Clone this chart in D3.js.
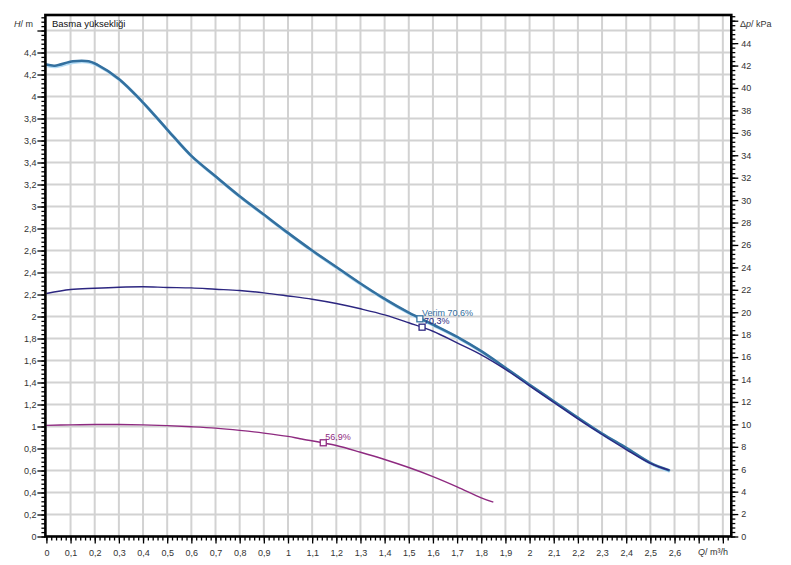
<!DOCTYPE html>
<html><head><meta charset="utf-8">
<script src="https://cdn.jsdelivr.net/npm/d3@7"></script>
<style>
html,body{margin:0;padding:0;background:#fff;}
svg{display:block;font-family:Arial,"Liberation Sans",sans-serif;}
</style></head>
<body>
<svg id="chart" width="791" height="565"></svg>
<script>
// ---- data ----
const qBlue = [0, 0.035, 0.11, 0.175, 0.21, 0.3, 0.4, 0.5, 0.6, 0.7, 0.8, 0.9, 1.0, 1.1, 1.2, 1.3, 1.4, 1.5, 1.6, 1.7, 1.8, 1.9, 2.0, 2.1, 2.2, 2.3, 2.4, 2.5, 2.577];
const hBlue = [4.29, 4.28, 4.32, 4.32, 4.29, 4.16, 3.945, 3.70, 3.46, 3.275, 3.094, 2.927, 2.76, 2.60, 2.45, 2.30, 2.16, 2.035, 1.927, 1.815, 1.685, 1.534, 1.38, 1.23, 1.08, 0.936, 0.806, 0.67, 0.603];
const qNavy = [0, 0.1, 0.2, 0.3, 0.4, 0.5, 0.6, 0.7, 0.8, 0.9, 1.0, 1.1, 1.2, 1.3, 1.4, 1.5, 1.6, 1.7, 1.8, 1.9, 2.0, 2.1, 2.2, 2.3, 2.4, 2.5, 2.577];
const hNavy = [2.209, 2.245, 2.257, 2.266, 2.27, 2.264, 2.26, 2.248, 2.236, 2.215, 2.187, 2.157, 2.118, 2.07, 2.015, 1.943, 1.866, 1.76, 1.652, 1.52, 1.37, 1.22, 1.07, 0.927, 0.79, 0.664, 0.603];
const qPurple = [0, 0.1, 0.2, 0.3, 0.4, 0.5, 0.6, 0.7, 0.8, 0.9, 1.0, 1.05, 1.2, 1.3, 1.4, 1.5, 1.6, 1.7, 1.8, 1.85];
const hPurple = [1.01, 1.015, 1.018, 1.018, 1.015, 1.008, 0.998, 0.985, 0.965, 0.94, 0.91, 0.889, 0.827, 0.766, 0.700, 0.627, 0.545, 0.452, 0.352, 0.312];
const pointQ = [1.546, 1.555, 1.146];
const pointH = [1.979, 1.903, 0.852];
const pointLabels = ["Verim 70,6%", "70,3%", "56,9%"];
const xTickLabels = d3.range(0, 27).map(i => i / 10);       // 0 .. 2.6
const yTickLabels = d3.range(0, 23).map(i => i / 5);        // 0 .. 4.4
const kpaTickLabels = d3.range(0, 23).map(i => i * 2);      // 0 .. 44
const yTitle = "Basma yüksekliği";
const KPA_PER_M = 9.81;

// ---- layout ----
const svg = d3.select("#chart");
const x = d3.scaleLinear().domain([0, 2.835]).range([46.4, 731.3]);
const y = d3.scaleLinear().domain([0, 4.741]).range([536.5, 15]);
const yk = d3.scaleLinear().domain([0, 4.741 * KPA_PER_M]).range([536.5, 15]);
const fmt = d => String(+d.toFixed(2)).replace(".", ",");

const colBlue = "#33709f", colHalo = "#b5dcf5", colNavy = "#2c2680", colPurple = "#8e2a80";
const gridCol = "#d2d2d2";

// grid
const g = svg.append("g");
g.selectAll("line.v").data(d3.range(1, 29).map(i => i / 10)).join("line")
  .attr("x1", d => x(d)).attr("x2", d => x(d)).attr("y1", y.range()[0]).attr("y2", y.range()[1])
  .attr("stroke", gridCol).attr("stroke-width", 2);
g.selectAll("line.h").data(d3.range(1, 24).map(i => i / 5)).join("line")
  .attr("y1", d => y(d)).attr("y2", d => y(d)).attr("x1", x.range()[0]).attr("x2", x.range()[1])
  .attr("stroke", gridCol).attr("stroke-width", 2);

// curves
const line = d3.line().x(d => x(d[0])).y(d => y(d[1])).curve(d3.curveCatmullRom.alpha(0.5));
const blue = qBlue.map((q, i) => [q, hBlue[i]]);
const navy = qNavy.map((q, i) => [q, hNavy[i]]);
const purple = qPurple.map((q, i) => [q, hPurple[i]]);

svg.append("path").attr("d", line(blue)).attr("fill", "none").attr("stroke", colHalo)
  .attr("stroke-width", 3).attr("transform", "translate(0.9,1.1)");
svg.append("path").attr("d", line(blue)).attr("fill", "none").attr("stroke", colBlue)
  .attr("stroke-width", 2.6).attr("stroke-linecap", "round");
svg.append("path").attr("d", line(navy)).attr("fill", "none").attr("stroke", colNavy)
  .attr("stroke-width", 1.4);
svg.append("path").attr("d", line(purple)).attr("fill", "none").attr("stroke", colPurple)
  .attr("stroke-width", 1.4);

// operating points
const ptCols = [colBlue, colNavy, colPurple];
const pts = pointQ.map((q, i) => ({ q, h: pointH[i], label: pointLabels[i], c: ptCols[i] }));
svg.selectAll("rect.pt").data(pts).join("rect")
  .attr("x", d => x(d.q) - 3).attr("y", d => y(d.h) - 3).attr("width", 6).attr("height", 6)
  .attr("fill", "#fff").attr("stroke", d => d.c).attr("stroke-width", 1.3);
svg.selectAll("text.pt").data(pts).join("text")
  .attr("x", d => x(d.q) + 2).attr("y", d => y(d.h) - 3)
  .attr("fill", d => d.c).attr("font-size", 9).text(d => d.label);

// axes
function styleAxis(sel) {
  sel.select(".domain").remove();
  sel.selectAll(".tick line").attr("stroke", "#000").attr("stroke-width", 1.3);
  sel.selectAll(".tick text").attr("fill", "#333").attr("font-size", 9).attr("font-family", "Arial, 'Liberation Sans', sans-serif");
}
const x0 = x.range()[0] - 1, x1 = x.range()[1], y0 = y.range()[0], y1 = y.range()[1];

// minor
svg.append("g").attr("transform", `translate(${x0},0)`)
  .call(d3.axisLeft(y).tickValues(d3.range(0, 119).map(i => i * 0.04)).tickSize(4).tickFormat(""))
  .call(styleAxis);
svg.append("g").attr("transform", `translate(0,${y0})`)
  .call(d3.axisBottom(x).tickValues(d3.range(0, 142).map(i => i * 0.02)).tickSize(4).tickFormat(""))
  .call(styleAxis);
svg.append("g").attr("transform", `translate(${x1},0)`)
  .call(d3.axisRight(yk).tickValues(d3.range(0, 117).map(i => i * 0.4)).tickSize(4).tickFormat(""))
  .call(styleAxis);

// major
svg.append("g").attr("transform", `translate(${x0},0)`)
  .call(d3.axisLeft(y).tickValues(yTickLabels.concat([4.6])).tickSize(8).tickPadding(1)
    .tickFormat(d => d > 4.5 ? "" : fmt(d)))
  .call(styleAxis);
svg.append("g").attr("transform", `translate(0,${y0})`)
  .call(d3.axisBottom(x).tickValues(xTickLabels.concat([2.7, 2.8])).tickSize(7).tickPadding(6)
    .tickFormat(d => d > 2.65 ? "" : fmt(d)))
  .call(styleAxis);
svg.append("g").attr("transform", `translate(${x1},0)`)
  .call(d3.axisRight(yk).tickValues(kpaTickLabels.concat([46])).tickSize(7).tickPadding(3)
    .tickFormat(d => d > 45 ? "" : fmt(d)))
  .call(styleAxis);

// frame
svg.append("rect").attr("x", x0).attr("y", y1).attr("width", x1 - x0).attr("height", y0 - y1)
  .attr("fill", "none").attr("stroke", "#000").attr("stroke-width", 2.6);

// titles
const hT = svg.append("text").attr("x", 14).attr("y", 27).attr("font-size", 9).attr("fill", "#333");
hT.append("tspan").attr("font-style", "italic").text("H");
hT.append("tspan").text("/ m");
svg.append("text").attr("x", 52).attr("y", 27).attr("font-size", 9.5).attr("fill", "#111").text(yTitle);
const pT = svg.append("text").attr("x", 740).attr("y", 27).attr("font-size", 9).attr("fill", "#333");
pT.append("tspan").text("Δ");
pT.append("tspan").attr("font-style", "italic").text("p");
pT.append("tspan").text("/ kPa");
const qT = svg.append("text").attr("x", 698).attr("y", 555).attr("font-size", 9).attr("fill", "#333");
qT.append("tspan").attr("font-style", "italic").text("Q");
qT.append("tspan").text("/ m³/h");
</script>
</body></html>
